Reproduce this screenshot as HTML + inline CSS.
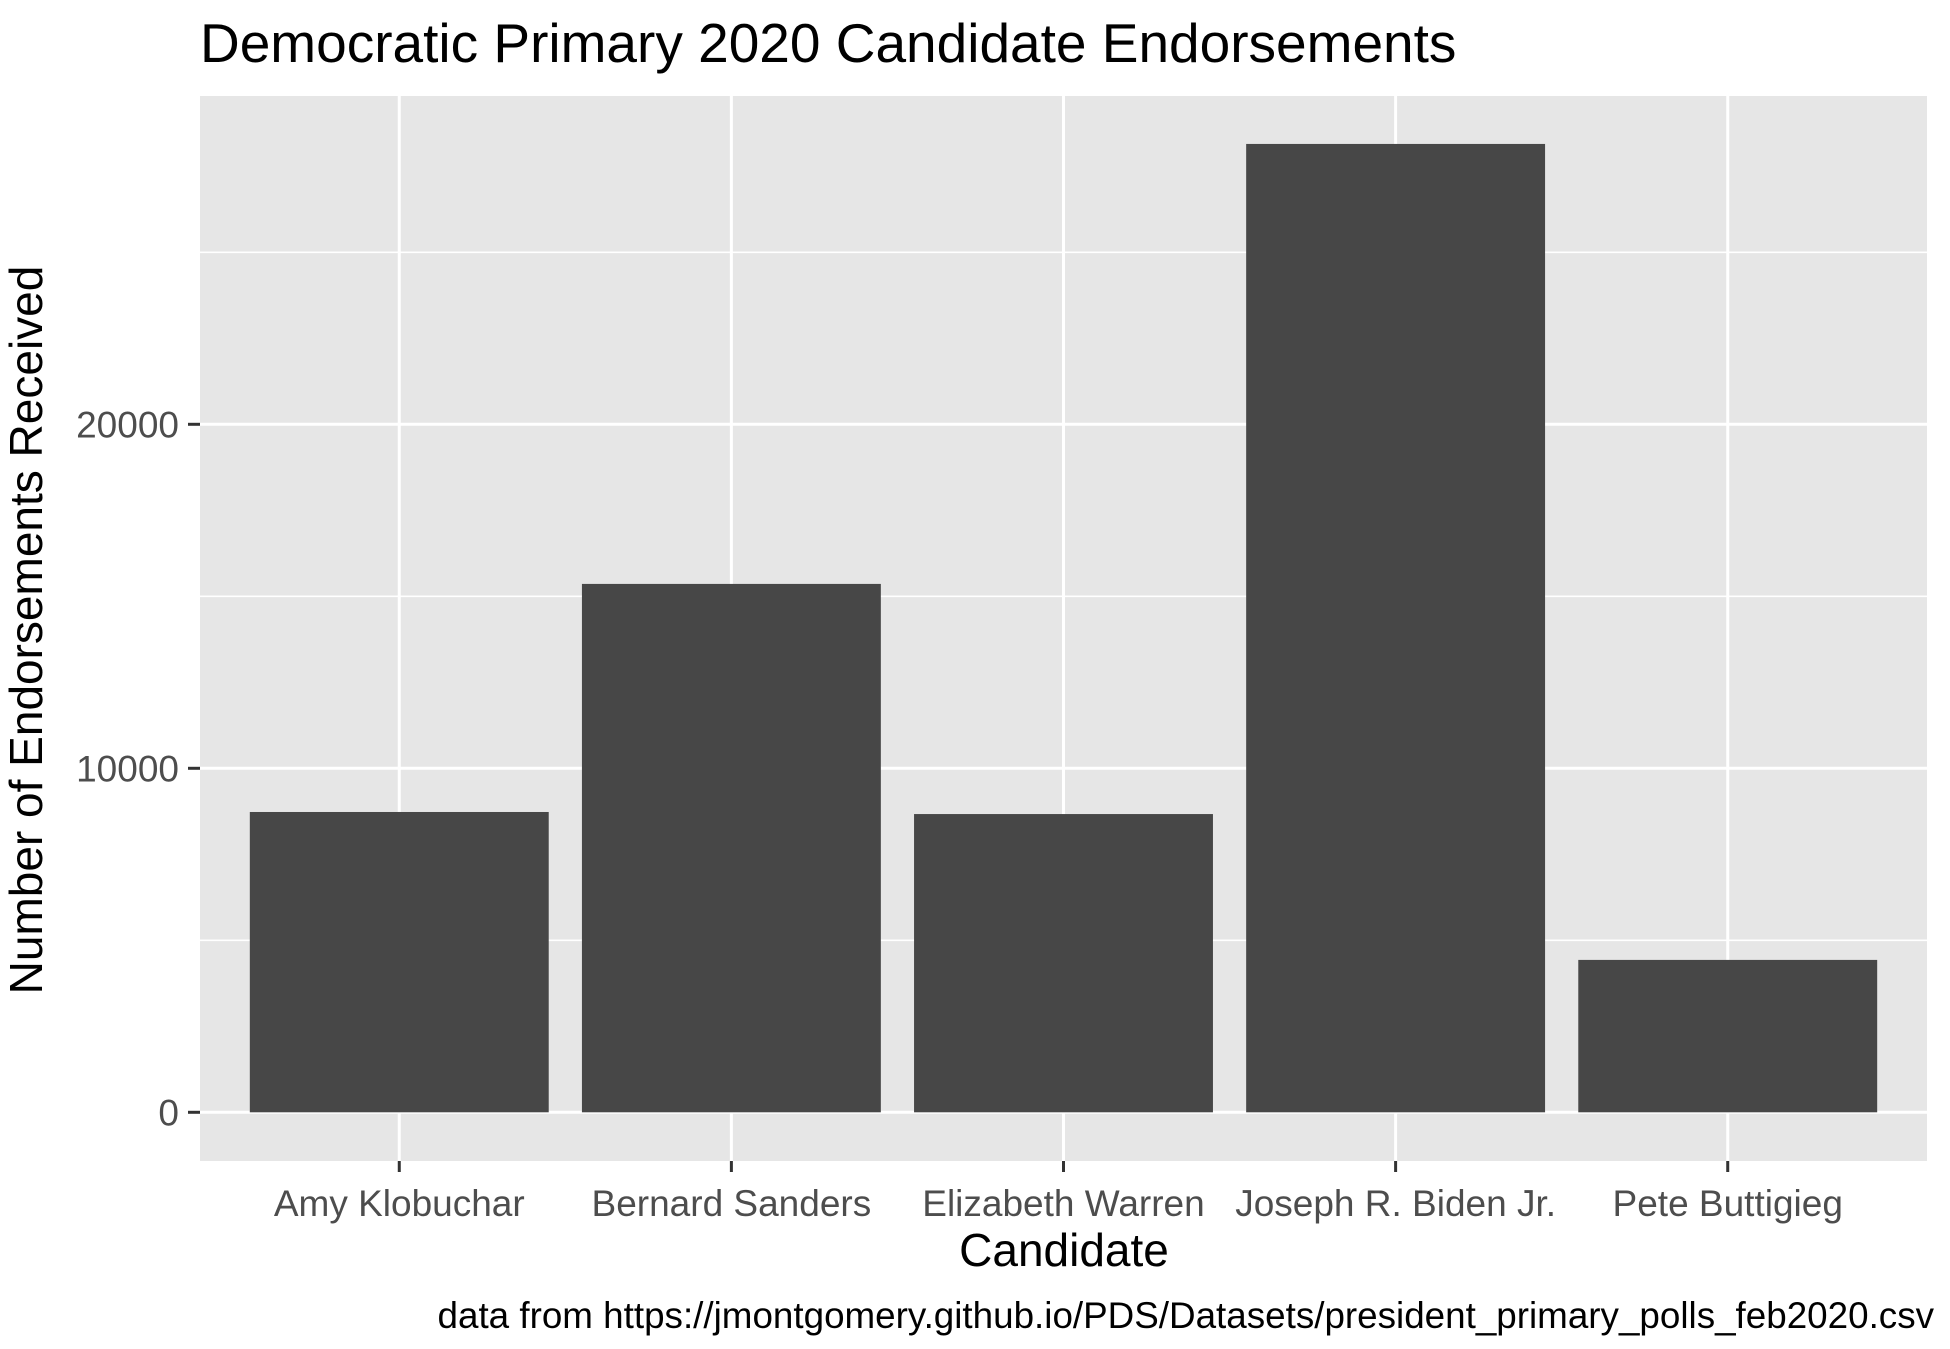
<!DOCTYPE html>
<html><head><meta charset="utf-8"><style>
html,body{margin:0;padding:0;background:#fff;}
svg{display:block;font-family:"Liberation Sans",Arial,sans-serif;}
</style></head><body>
<svg id="chart" width="1950" height="1349" viewBox="0 0 1950 1349" xmlns="http://www.w3.org/2000/svg">
<rect width="1950" height="1349" fill="#fff"/>
<text x="200" y="62" font-size="55" fill="#000">Democratic Primary 2020 Candidate Endorsements</text>
<rect x="200" y="96" width="1727" height="1065" fill="#E6E6E6"/>
<g id="grid"></g><g id="bars"></g><g id="axes"></g>
<text transform="translate(42,630) rotate(-90)" text-anchor="middle" font-size="46" fill="#000">Number of Endorsements Received</text>
<text x="1064" y="1266" text-anchor="middle" font-size="46" fill="#000">Candidate</text>
<text x="1934" y="1328" text-anchor="end" font-size="36.8" fill="#000">data from https://jmontgomery.github.io/PDS/Datasets/president_primary_polls_feb2020.csv</text>
</svg>
<script>
const categories = ["Amy Klobuchar","Bernard Sanders","Elizabeth Warren","Joseph R. Biden Jr.","Pete Buttigieg"];
const values = [8730, 15360, 8670, 28150, 4430];
const yTicks = [0, 10000, 20000];
const yMinor = [5000, 15000, 25000];
const tickLabels = ["0","10000","20000"];

const NS="http://www.w3.org/2000/svg";
const L=200,R=1927,T=96,B=1161;
const unit=(R-L)/(categories.length+0.2);
function xPos(i){return L+(0.6+i)*unit;}
function yPos(v){return 1112.3-v*0.0344;}
function mk(tag,attrs,parent){const e=document.createElementNS(NS,tag);for(const k in attrs)e.setAttribute(k,attrs[k]);parent.appendChild(e);return e;}
const grid=document.getElementById('grid'),bars=document.getElementById('bars'),axes=document.getElementById('axes');
yMinor.forEach(v=>{const y=yPos(v);if(y<T)return;
 const l=mk('line',{x1:L,x2:R,y1:y,y2:y,stroke:'#fff','stroke-width':1.6},grid);
 
 });
yTicks.forEach((v,i)=>{const y=yPos(v);
 const l=mk('line',{x1:L,x2:R,y1:y,y2:y,stroke:'#fff','stroke-width':3},grid);
 
 
 const t=mk('line',{x1:188,x2:L,y1:y,y2:y,stroke:'#333','stroke-width':3},axes);
 
 
 const tx=mk('text',{x:179,y:y+13,'text-anchor':'end','font-size':37,fill:'#4d4d4d'},axes);
 tx.textContent=tickLabels[i];
 
 });
categories.forEach((c,i)=>{const x=xPos(i);
 const l=mk('line',{x1:x,x2:x,y1:T,y2:B,stroke:'#fff','stroke-width':3},grid);
 
 
 const w=unit*0.9,y=yPos(values[i]);
 const b=mk('rect',{x:x-w/2,y:y,width:w,height:yPos(0)-y,fill:'#474747'},bars);
 
 
 const t=mk('line',{x1:x,x2:x,y1:B,y2:B+11,stroke:'#333','stroke-width':3},axes);
 
 
 const tx=mk('text',{x:x,y:1216,'text-anchor':'middle','font-size':37,fill:'#4d4d4d'},axes);
 tx.textContent=c;
 
 });
</script>
</body></html>
